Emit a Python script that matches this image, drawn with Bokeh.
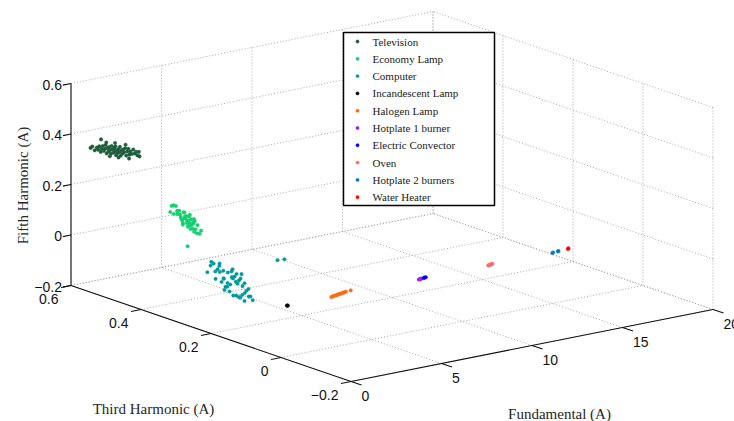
import numpy as np
from bokeh.plotting import figure
from bokeh.models import Range1d
from bokeh.core.properties import value
from bokeh.embed import file_html
from bokeh.resources import INLINE

# ---------------- data ----------------
categories = ["Television", "Economy Lamp", "Computer", "Incandescent Lamp", "Halogen Lamp",
              "Hotplate 1 burner", "Electric Convector", "Oven", "Hotplate 2 burners", "Water Heater"]
colors = ["#1f5e3c", "#14d070", "#009a9a", "#000000", "#ff6a10",
          "#a020f0", "#0000ff", "#ff6b6b", "#0a78c8", "#ff0000"]

tv_fund = 0.50
tv_third = [0.570, 0.565, 0.558, 0.552, 0.548, 0.545, 0.541, 0.538, 0.535, 0.532,
            0.529, 0.527, 0.524, 0.522, 0.519, 0.517, 0.514, 0.512, 0.510, 0.508,
            0.505, 0.503, 0.501, 0.499, 0.497, 0.495, 0.493, 0.490, 0.488, 0.486,
            0.484, 0.481, 0.479, 0.477, 0.474, 0.471, 0.468, 0.465, 0.462, 0.459,
            0.456, 0.452, 0.448, 0.444, 0.440, 0.436, 0.432, 0.525, 0.500, 0.470,
            0.515, 0.490, 0.460, 0.430, 0.540]
tv_fifth = [0.352, 0.360, 0.348, 0.362, 0.355, 0.370, 0.350, 0.364, 0.376, 0.358,
            0.368, 0.384, 0.352, 0.374, 0.362, 0.381, 0.370, 0.356, 0.388, 0.376,
            0.364, 0.383, 0.371, 0.392, 0.358, 0.379, 0.368, 0.386, 0.374, 0.396,
            0.362, 0.384, 0.372, 0.390, 0.380, 0.398, 0.370, 0.388, 0.400, 0.378,
            0.392, 0.384, 0.404, 0.390, 0.398, 0.386, 0.402, 0.395, 0.405, 0.412,
            0.345, 0.352, 0.362, 0.385, 0.400]

el_fund = 0.10
el_third = [0.3175, 0.3215, 0.3115, 0.3015, 0.3055, 0.3115, 0.3015, 0.2895, 0.2955, 0.3015,
            0.2915, 0.2815, 0.2875, 0.2935, 0.2835, 0.2735, 0.2795, 0.2855, 0.2775, 0.2675,
            0.2735, 0.2807, 0.2715, 0.2615, 0.2687, 0.2755, 0.2655, 0.2567, 0.2635, 0.2695,
            0.2607, 0.2515, 0.2575, 0.2635, 0.2535, 0.2435, 0.2495, 0.2555, 0.2455, 0.2335,
            0.2375, 0.2535, 0.2855, 0.2655, 0.272]
el_fifth = [0.248, 0.222, 0.253, 0.234, 0.253, 0.219, 0.236, 0.208, 0.239, 0.223,
            0.215, 0.239, 0.205, 0.225, 0.239, 0.208, 0.225, 0.195, 0.217, 0.230,
            0.200, 0.217, 0.187, 0.222, 0.204, 0.228, 0.194, 0.212, 0.182, 0.213,
            0.199, 0.219, 0.186, 0.202, 0.176, 0.207, 0.188, 0.208, 0.174, 0.190,
            0.176, 0.226, 0.189, 0.238, 0.110]

pc_fund = 0.50
pc_third = [0.227, 0.2363, 0.2185, 0.2006, 0.2128, 0.2249, 0.2071, 0.1892, 0.2014, 0.2135,
            0.1957, 0.1778, 0.190, 0.2021, 0.1843, 0.1664, 0.1786, 0.1907, 0.1729, 0.155,
            0.1672, 0.1793, 0.1632, 0.1465, 0.1586, 0.1708, 0.1529, 0.1368, 0.1501, 0.1622,
            0.1461, 0.1294, 0.1415, 0.1537, 0.1358, 0.118, 0.1301, 0.1423, 0.1244, 0.1066,
            0.1187, 0.113, 0.1387, 0.1871, 0.1643, 0.1301, 0.036, 0.016]
pc_fifth = [0.049, 0.018, 0.061, 0.036, 0.003, 0.065, 0.044, 0.015, 0.069, 0.032,
            -0.001, 0.045, 0.016, 0.059, -0.015, 0.032, 0.003, 0.046, -0.028, 0.019,
            0.054, -0.012, 0.028, -0.037, 0.038, 0.001, 0.051, -0.025, 0.014, -0.039,
            0.028, -0.013, 0.038, -0.035, 0.011, -0.022, 0.025, -0.038, -0.002, -0.031,
            0.008, -0.019, 0.057, -0.029, 0.064, -0.045, 0.161, 0.174]

inc_fund = [0.35, 0.36, 0.37]
inc_third = [0.001, 0.000, 0.000]
inc_fifth = [0.000, 0.001, 0.000]

hal_fund = [2.78, 2.85, 2.92, 3.00, 3.08, 3.15, 3.22, 3.30, 3.38, 3.45, 3.52, 3.60, 3.67, 3.95]
hal_third = [0.000, 0.000, 0.001, 0.001, 0.001, 0.002, 0.002, 0.002, 0.003, 0.003, 0.003, 0.004, 0.004, 0.005]
hal_fifth = [0.000, 0.001, 0.001, 0.002, 0.002, 0.003, 0.003, 0.004, 0.004, 0.005, 0.005, 0.006, 0.006, 0.007]

hp1_fund = [7.62, 7.66, 7.70, 7.74, 7.78]
hp1_third = [0.000, 0.001, 0.000, 0.001, 0.000]
hp1_fifth = [0.000, 0.000, 0.001, 0.001, 0.002]

ec_fund = [7.90, 7.95, 8.00]
ec_third = [0.000, 0.001, 0.000]
ec_fifth = [0.002, 0.003, 0.004]

oven_fund = [11.45, 11.50, 11.55, 11.60, 11.65, 11.70]
oven_third = [0.000, 0.001, 0.000, 0.001, 0.000, 0.001]
oven_fifth = [0.001, 0.002, 0.002, 0.003, 0.003, 0.004]

hp2_fund = [15.00, 15.05, 15.30, 15.35]
hp2_third = [0.000, 0.001, 0.000, 0.001]
hp2_fifth = [0.000, 0.001, 0.002, 0.002]

wh_fund = [15.85, 15.90]
wh_third = [0.000, 0.001]
wh_fifth = [0.004, 0.005]

fund_ticks = [0, 5, 10, 15, 20]
fund_labels = ["0", "5", "10", "15", "20"]
third_ticks = [-0.2, 0.0, 0.2, 0.4, 0.6]
third_labels = ["\u22120.2", "0", "0.2", "0.4", "0.6"]
fifth_ticks = [-0.2, 0.0, 0.2, 0.4, 0.6]
fifth_labels = ["\u22120.2", "0", "0.2", "0.4", "0.6"]

series = [
    (tv_fund, tv_third, tv_fifth),
    (el_fund, el_third, el_fifth),
    (pc_fund, pc_third, pc_fifth),
    (inc_fund, inc_third, inc_fifth),
    (hal_fund, hal_third, hal_fifth),
    (hp1_fund, hp1_third, hp1_fifth),
    (ec_fund, ec_third, ec_fifth),
    (oven_fund, oven_third, oven_fifth),
    (hp2_fund, hp2_third, hp2_fifth),
    (wh_fund, wh_third, wh_fifth),
]

# ---------------- 3D view (screen projection) ----------------
W, H = 734, 421
FMIN, FMAX = 0.0, 20.0
TMIN, TMAX = -0.2, 0.6
HMIN, HMAX = -0.2, 0.6
OX, OY = 350.5, 381.0          # screen position of (FMIN, TMIN, HMIN)
EX = (18.1, -3.6)              # per unit fundamental
EY = (-350.0, -120.0)          # per unit third harmonic
EZ = (0.0, -252.5)             # per unit fifth harmonic


def proj(f, t, h):
    f = np.asarray(f, dtype=float)
    t = np.asarray(t, dtype=float)
    h = np.asarray(h, dtype=float)
    sx = OX + EX[0] * (f - FMIN) + EY[0] * (t - TMIN) + EZ[0] * (h - HMIN)
    sy = OY + EX[1] * (f - FMIN) + EY[1] * (t - TMIN) + EZ[1] * (h - HMIN)
    return sx, H - sy


def seg(a, b):
    x, y = proj([a[0], b[0]], [a[1], b[1]], [a[2], b[2]])
    return list(x), list(y)


p = figure(width=W, height=H, x_range=Range1d(0, W), y_range=Range1d(0, H),
           toolbar_location=None, output_backend="svg", min_border=0,
           x_axis_type=None, y_axis_type=None)
p.outline_line_color = None
p.background_fill_color = "white"
p.border_fill_color = "white"

# grid on the three back planes
gx, gy = [], []
for f in fund_ticks:
    for a, b in [((f, TMIN, HMIN), (f, TMAX, HMIN)), ((f, TMAX, HMIN), (f, TMAX, HMAX))]:
        x, y = seg(a, b); gx.append(x); gy.append(y)
for t in third_ticks:
    for a, b in [((FMIN, t, HMIN), (FMAX, t, HMIN)), ((FMAX, t, HMIN), (FMAX, t, HMAX))]:
        x, y = seg(a, b); gx.append(x); gy.append(y)
for h in fifth_ticks:
    for a, b in [((FMIN, TMAX, h), (FMAX, TMAX, h)), ((FMAX, TMIN, h), (FMAX, TMAX, h))]:
        x, y = seg(a, b); gx.append(x); gy.append(y)
p.multi_line(gx, gy, line_color="#a8a8a8", line_width=1, line_dash="1 2")

# axes lines and ticks
ax, ay = [], []
for a, b in [((FMIN, TMIN, HMIN), (FMAX, TMIN, HMIN)),
             ((FMIN, TMIN, HMIN), (FMIN, TMAX, HMIN)),
             ((FMIN, TMAX, HMIN), (FMIN, TMAX, HMAX))]:
    x, y = seg(a, b); ax.append(x); ay.append(y)
for f in fund_ticks:
    x, y = seg((f, TMIN, HMIN), (f, TMIN - 0.03, HMIN)); ax.append(x); ay.append(y)
for t in third_ticks:
    x, y = seg((FMIN, t, HMIN), (FMIN - 0.55, t, HMIN)); ax.append(x); ay.append(y)
for h in fifth_ticks:
    x, y = seg((FMIN, TMAX, h), (FMIN - 0.45, TMAX, h)); ax.append(x); ay.append(y)
p.multi_line(ax, ay, line_color="#111111", line_width=1.1)

# data points
for (fv, tv, hv), col in zip(series, colors):
    n = len(tv)
    fa = np.broadcast_to(np.asarray(fv, dtype=float), (n,))
    sx, sy = proj(fa, tv, hv)
    p.scatter(sx, sy, size=3.6, marker="circle", fill_color=col, line_color=col, line_width=0.3)

# tick labels
tick_font = value("Liberation Sans")
sx, sy = proj(fund_ticks, [TMIN] * 5, [HMIN] * 5)
p.text(sx + 10.5, sy - 14, text=fund_labels, text_font=tick_font, text_font_size="14px",
       text_align="left", text_baseline="middle", text_color="#111111")
sx, sy = proj([FMIN] * 5, third_ticks, [HMIN] * 5)
p.text(sx - 12.5, sy - 13, text=third_labels, text_font=tick_font, text_font_size="14px",
       text_align="right", text_baseline="middle", text_color="#111111")
sx, sy = proj([FMIN] * 5, [TMAX] * 5, fifth_ticks)
p.text(sx - 9, sy - 1, text=fifth_labels, text_font=tick_font, text_font_size="14px",
       text_align="right", text_baseline="middle", text_color="#111111")

# axis titles
title_font = value("Liberation Serif")
p.text([559], [H - 413], text=["Fundamental (A)"], text_font=title_font, text_font_size="15px",
       text_align="center", text_baseline="middle", text_color="#262626")
p.text([153], [H - 408], text=["Third Harmonic (A)"], text_font=title_font, text_font_size="15px",
       text_align="center", text_baseline="middle", text_color="#262626")
p.text([22], [H - 185], text=["Fifth Harmonic (A)"], text_font=title_font, text_font_size="15px",
       text_align="center", text_baseline="middle", angle=np.pi / 2, text_color="#262626")

# legend box
LX0, LX1, LY0, LY1 = 343, 494, 32, 205
p.quad(left=[LX0], right=[LX1], top=[H - LY0], bottom=[H - LY1],
       fill_color="white", line_color="black", line_width=1.5)
row_y = [H - (41 + 17.3 * i) for i in range(len(categories))]
p.scatter([357] * len(categories), row_y, size=3.4, marker="circle",
          fill_color=colors, line_color=colors, line_width=0.3)
p.text([372] * len(categories), row_y, text=categories, text_font=title_font,
       text_font_size="11px", text_align="left", text_baseline="middle", text_color="#1a1a1a")

open("out.html", "w").write(file_html(p, INLINE))
